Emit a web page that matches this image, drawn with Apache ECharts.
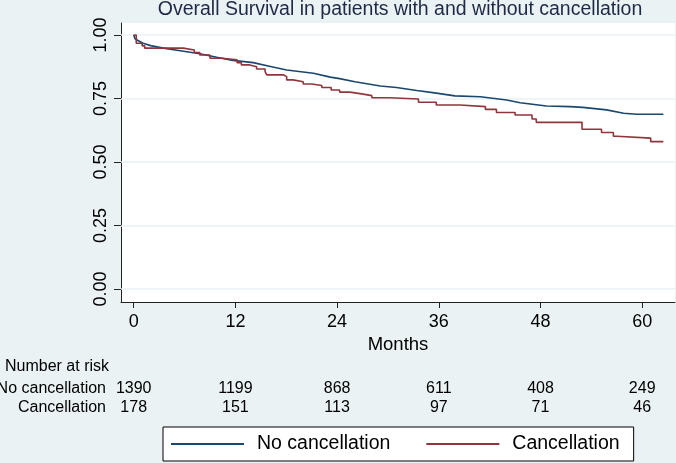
<!DOCTYPE html>
<html>
<head>
<meta charset="utf-8">
<script src="https://cdn.jsdelivr.net/npm/echarts@6/dist/echarts.min.js"></script>
<style>
  html, body { margin: 0; padding: 0; background: #eaf2f3; }
  #chart { width: 676px; height: 463px; }
</style>
</head>
<body>
<div id="chart"></div>
<script>
// tick values
const monthTicks = [0, 12, 24, 36, 48, 60];
const survTicks = [0, 0.25, 0.5, 0.75, 1];

// number at risk, one value per month tick
const riskNoCancel = [1390, 1199, 868, 611, 408, 249];
const riskCancel = [178, 151, 113, 97, 71, 46];

// Kaplan-Meier curves: [month, survival]
const noCancelCurve = [
  [0, 1.0], [0.15, 0.985], [0.5, 0.978], [1.1, 0.967], [2.0, 0.958], [3.5, 0.948],
  [5.5, 0.938], [7.8, 0.926], [9.8, 0.912], [11.7, 0.900], [14.1, 0.891], [16, 0.877],
  [18.05, 0.862], [21.2, 0.849], [23.2, 0.834], [24.3, 0.828], [26.1, 0.816], [29.1, 0.799],
  [31, 0.793], [33.4, 0.781], [35.5, 0.772], [37.9, 0.760], [40.9, 0.757], [44.0, 0.744],
  [45.6, 0.733], [48.7, 0.720], [51.5, 0.718], [53, 0.715], [55.8, 0.705], [57.8, 0.692],
  [59.35, 0.688], [62.5, 0.688]
];
const cancelCurve = [
  [0, 1.0], [0.3, 0.967], [1.0, 0.957], [1.3, 0.948], [5.85, 0.941], [7.15, 0.931],
  [7.8, 0.921], [9.0, 0.908], [10.4, 0.902], [12.2, 0.891], [12.7, 0.882], [13.7, 0.875],
  [14.5, 0.866], [15.5, 0.856], [15.7, 0.843], [17.65, 0.836], [18.05, 0.823], [18.8, 0.816],
  [20.0, 0.807], [21.0, 0.801], [22.2, 0.793], [23.3, 0.783], [24.3, 0.775], [25.5, 0.768],
  [26.9, 0.761], [28.1, 0.753], [30.2, 0.748], [33.6, 0.735], [35.7, 0.724], [38.5, 0.718],
  [41.5, 0.707], [42.8, 0.695], [45.0, 0.685], [47.0, 0.669], [47.5, 0.656], [52.9, 0.629],
  [55.2, 0.616], [56.6, 0.601], [57.0, 0.594], [61.0, 0.580], [62.5, 0.580]
];

const FONT = 'Liberation Sans, Arial, Helvetica, sans-serif';
const BLUE = '#1a476f';
const RED = '#90353b';
const GRIDLINE = '#eaf2f3';

let chartDom = document.getElementById('chart');
let myChart = echarts.init(chartDom);
let option;

function riskAxis(values, offset) {
  return {
    type: 'value',
    gridIndex: 0,
    position: 'bottom',
    min: -1.5,
    max: 63.87,
    offset: offset,
    axisLine: { show: false },
    axisTick: { show: false },
    splitLine: { show: false },
    axisLabel: {
      customValues: monthTicks,
      margin: 0,
      fontFamily: FONT,
      fontSize: 16,
      color: '#000',
      formatter: (v) => {
        const i = monthTicks.indexOf(v);
        return i >= 0 ? String(values[i]) : '';
      }
    }
  };
}

option = {
  backgroundColor: '#eaf2f3',
  animation: false,
  textStyle: { fontFamily: FONT },
  grid: {
    left: 121,
    top: 23,
    right: 1,
    bottom: 161,
    show: true,
    backgroundColor: '#fff',
    borderWidth: 0
  },
  legend: {
    data: ['No cancellation', 'Cancellation'],
    left: 163,
    top: 427,
    orient: 'horizontal',
    padding: [7, 14, 7, 8],
    backgroundColor: '#fff',
    borderColor: '#000',
    borderWidth: 1,
    borderRadius: 0,
    icon: 'rect',
    itemWidth: 73,
    itemHeight: 2,
    itemGap: 36,
    textStyle: {
      fontFamily: FONT,
      fontSize: 19.5,
      color: '#000',
      padding: [0, 0, 0, 8]
    }
  },
  xAxis: [
    {
      type: 'value',
      min: -1.5,
      max: 63.87,
      name: 'Months',
      nameLocation: 'middle',
      nameGap: 32,
      nameTextStyle: { fontFamily: FONT, fontSize: 18.5, color: '#000' },
      axisLine: { show: true, onZero: false, lineStyle: { color: '#222', width: 1 } },
      axisTick: { show: true, customValues: monthTicks, length: 6, lineStyle: { color: '#222' } },
      splitLine: { show: false },
      axisLabel: {
        customValues: monthTicks,
        margin: 11,
        fontFamily: FONT,
        fontSize: 18,
        color: '#000'
      }
    },
    riskAxis(riskNoCancel, 79),
    riskAxis(riskCancel, 98)
  ],
  yAxis: {
    type: 'value',
    min: -0.0512,
    max: 1.047,
    axisLine: { show: true, onZero: false, lineStyle: { color: '#222', width: 1 } },
    axisTick: { show: true, customValues: survTicks, length: 7, lineStyle: { color: '#222' } },
    splitLine: { show: false },
    axisLabel: {
      customValues: survTicks,
      rotate: 90,
      margin: 11,
      fontFamily: FONT,
      fontSize: 18,
      color: '#000',
      formatter: (v) => v.toFixed(2)
    }
  },
  graphic: [
    {
      type: 'text', x: 400, y: 10,
      style: { text: 'Overall Survival in patients with and without cancellation', fill: '#1e2a45',
        fontFamily: FONT, fontSize: 19.5, align: 'center', verticalAlign: 'middle' }
    },
    {
      type: 'text', x: 5, y: 367,
      style: { text: 'Number at risk', fill: '#000', fontFamily: FONT, fontSize: 16,
        align: 'left', verticalAlign: 'middle' }
    },
    {
      type: 'text', x: 106, y: 389,
      style: { text: 'No cancellation', fill: '#000', fontFamily: FONT, fontSize: 16,
        align: 'right', verticalAlign: 'middle' }
    },
    {
      type: 'text', x: 106, y: 408,
      style: { text: 'Cancellation', fill: '#000', fontFamily: FONT, fontSize: 16,
        align: 'right', verticalAlign: 'middle' }
    }
  ],
  series: [
    {
      name: 'gridlines',
      type: 'line',
      data: [],
      z: 1,
      silent: true,
      markLine: {
        z: 1,
        silent: true,
        symbol: ['none', 'none'],
        label: { show: false },
        lineStyle: { color: GRIDLINE, width: 1.5, type: 'solid' },
        data: survTicks.map((v) => ({ yAxis: v }))
      }
    },
    {
      name: 'No cancellation',
      type: 'line',
      z: 10,
      showSymbol: false,
      color: BLUE,
      lineStyle: { color: BLUE, width: 1.6 },
      data: noCancelCurve
    },
    {
      name: 'Cancellation',
      type: 'line',
      z: 11,
      step: 'end',
      showSymbol: false,
      color: RED,
      lineStyle: { color: RED, width: 1.6 },
      data: cancelCurve
    }
  ]
};

option && myChart.setOption(option);
</script>
</body>
</html>
